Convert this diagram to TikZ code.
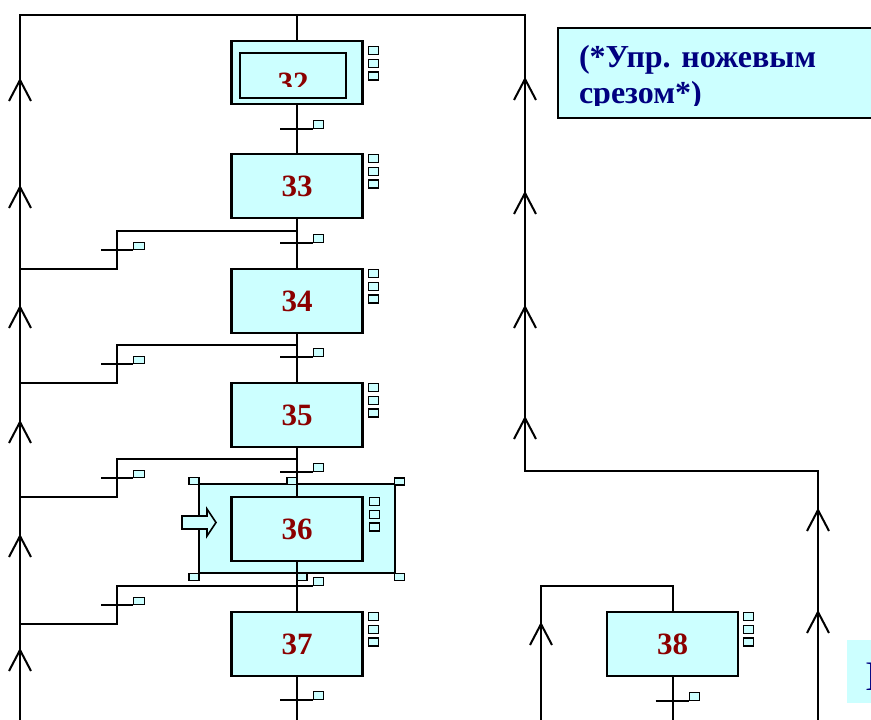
\documentclass[tikz,border=0pt]{standalone}
\usepackage{fontspec}
\setmainfont{Liberation Serif}
\definecolor{boxfill}{HTML}{CCFFFF}
\definecolor{numred}{HTML}{8B0000}
\definecolor{notenavy}{HTML}{000080}
\newcommand\chevron[2]{\draw (#1-11,#2+21) -- (#1,#2) -- (#1+11,#2+21);}
\begin{document}
\begin{tikzpicture}[x=1pt,y=-1pt,
  line width=2pt, line join=miter,
  stepbox/.style={draw, fill=boxfill, line width=2.2pt, minimum width=131pt, minimum height=64pt, inner sep=0pt, text=numred, font=\bfseries\fontsize{31}{31}\selectfont},
  numtext/.style={text=numred, font=\bfseries\fontsize{31}{31}\selectfont, inner sep=0pt},
  sqr/.style={draw, fill=boxfill, line width=1.4pt, minimum width=10pt, minimum height=8pt, inner sep=0pt, anchor=north west},
  tsq/.style={draw, fill=boxfill, line width=1.4pt, minimum width=10pt, minimum height=8pt, inner sep=0pt, anchor=south west},
  bsq/.style={draw, fill=boxfill, line width=1.4pt, minimum width=11pt, minimum height=7pt, inner sep=0pt, anchor=south west},
  handle/.style={draw, fill=boxfill, line width=1.4pt, minimum width=10pt, minimum height=7pt, inner sep=0pt},
  notetext/.style={text=notenavy, font=\bfseries\fontsize{32}{36}\selectfont, inner sep=0pt, anchor=base west}
]
\clip (0,0) rectangle (871,720);

% selection frame of step 36
\node[draw, fill=boxfill, line width=1.6pt, minimum width=196pt, minimum height=89pt, inner sep=0pt] (sel) at (297,528.5) {};

% frame lines
\coordinate (top) at (297,15);
\coordinate (L0) at (20,15);
\coordinate (L1) at (20,720);
\coordinate (R0) at (525,15);
\coordinate (R1) at (525,471);
\coordinate (R2) at (818,471);
\coordinate (R3) at (818,720);
\draw (L1) -- (L0) -- (R0) -- (R1) -- (R2) -- (R3);

% steps
\node[stepbox, minimum height=63pt] (s32) at (297,72.5) {};
\node[draw, line width=2.2pt, minimum width=106pt, minimum height=45pt, inner sep=0pt] (s32i) at (293,75.5) {};
\begin{scope}
\clip (240,53) rectangle (346,86);
\node[numtext, anchor=base] (n32) at (293,93) {32};
\end{scope}
\node[stepbox] (s33) at (297,186) {33};
\node[stepbox] (s34) at (297,301) {34};
\node[stepbox] (s35) at (297,415) {35};
\node[stepbox] (s36) at (297,529) {36};
\node[stepbox] (s37) at (297,644) {37};
\node[stepbox] (s38) at (672.5,644) {38};

% main column
\coordinate (bot) at (297,720);
\draw (top) -- (s32.north);
\draw (s32.south) -- (s33.north);
\draw (s33.south) -- (s34.north);
\draw (s34.south) -- (s35.north);
\draw (s35.south) -- (s36.north);
\draw (s36.south) -- (s37.north);
\draw (s37.south) -- (bot);

% step 38 column
\coordinate (c38a) at (672.5,586);
\coordinate (c38b) at (541,586);
\coordinate (c38c) at (541,720);
\coordinate (c38d) at (672.5,720);
\draw (s38.north) -- (c38a) -- (c38b) -- (c38c);
\draw (s38.south) -- (c38d);

% side squares of steps
\foreach \n/\x/\y in {32/368/46, 33/368/154, 34/368/269, 35/368/383, 36/369/497, 37/368/612, 38/743/612}{
  \foreach \i in {0,1,2}{
    \node[sqr] (q\n-\i) at (\x,\y+12.7*\i) {};
  }
}

% transitions on main column
\foreach \n/\y in {32/129, 33/243, 34/357, 35/472, 36/586, 37/700}{
  \coordinate (t\n) at (297,\y);
  \draw ([xshift=-17pt]t\n) -- ([xshift=16pt]t\n);
  \node[tsq] (tq\n) at ([xshift=16pt]t\n) {};
}
\coordinate (t38) at (672.5,701);
\draw ([xshift=-17pt]t38) -- ([xshift=16pt]t38);
\node[tsq] (tq38) at ([xshift=16pt]t38) {};

% branches back to the left line
\foreach \n/\yb/\yj in {a/231/269, b/345/383, c/459/497, d/586/624}{
  \coordinate (b\n1) at (297,\yb);
  \coordinate (b\n2) at (117,\yb);
  \coordinate (b\n3) at (117,\yj);
  \coordinate (b\n4) at (20,\yj);
  \draw (b\n1) -- (b\n2) -- (b\n3) -- (b\n4);
  \coordinate (bt\n) at (117,\yb+19);
  \draw ([xshift=-16pt]bt\n) -- ([xshift=16pt]bt\n);
  \node[bsq] (bq\n) at ([xshift=16pt]bt\n) {};
}

% chevrons
\foreach \y in {80,187,307,422,536,650}{\chevron{20}{\y}}
\foreach \y in {79,193,307,418}{\chevron{525}{\y}}
\foreach \y in {510,612}{\chevron{818}{\y}}
\chevron{541}{624}

% selection handles
\node[handle] (h1) at (194,481) {};
\node[handle] (h2) at (292,481) {};
\node[handle] (h3) at (399.5,481.5) {};
\node[handle] (h4) at (194,577) {};
\node[handle] (h5) at (302,577) {};
\node[handle] (h6) at (399.5,577) {};

% block arrow pointing at step 36
\draw[fill=boxfill, line width=1.6pt] (182,516) -- (207,516) -- (207,509) -- (216,522.5) -- (207,536) -- (207,529) -- (182,529) -- cycle;

% note box
\node[draw, fill=boxfill, line width=2.2pt, anchor=north west, minimum width=340pt, minimum height=90pt, inner sep=0pt] (note) at (557,27) {};
\begin{scope}
\clip (557,27) rectangle (871,105);
\node[notetext] (note1) at (578,67) {(*Упр. ножевым};
\node[notetext] (note2) at (578,103) {срезом*)};
\end{scope}

% cut-off box at bottom right
\fill[boxfill] (847,640) rectangle (880,703);
\node[anchor=base west, text=notenavy, font=\fontsize{42}{42}\selectfont, inner sep=0pt] (frag) at (864,690) {I};
\end{tikzpicture}
\end{document}
